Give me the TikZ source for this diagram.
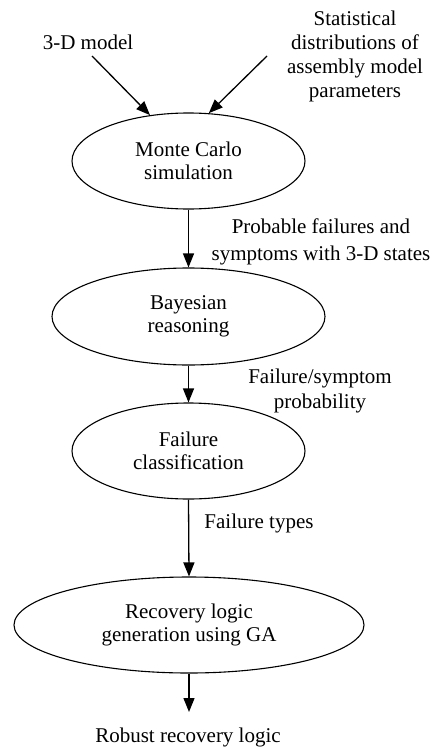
\documentclass[tikz,border=0pt]{standalone}
\usepackage{fontspec}
\setmainfont{Liberation Serif}
\usetikzlibrary{arrows.meta,shapes.geometric}
\tikzset{
  txt/.style={align=center,inner sep=0pt,font=\fontsize{21}{24}\selectfont},
  proc/.style={ellipse,draw,line width=1.1pt,inner sep=0pt,align=center,font=\fontsize{21}{23}\selectfont},
  arr/.style={line width=1.3pt,-{Triangle[length=14pt,width=11pt]}}
}
\begin{document}
\begin{tikzpicture}[x=1pt,y=-1pt]
\useasboundingbox (0,0) rectangle (437,749);
% inputs
\node[txt] (model) at (88,42) {3-D model};
\node[txt] (stats) at (355,56) {Statistical\\distributions of\\assembly model\\parameters};
\coordinate (s1) at (92,56);
\coordinate (s2) at (267,56);
% process steps
\node[proc,minimum width=233pt,minimum height=96pt] (mc) at (188.5,161) {Monte Carlo\\simulation};
\node[proc,minimum width=273pt,minimum height=97pt] (bay) at (188.5,316.5) {Bayesian\\reasoning};
\node[proc,minimum width=233pt,minimum height=96pt] (fc) at (188.5,451) {Failure\\classification};
\node[proc,minimum width=350pt,minimum height=96pt] (rec) at (189,625) {Recovery logic\\generation using GA};
\node[txt] (rob) at (188,737) {Robust recovery logic};
\coordinate (robtop) at (189,712);
% flow labels
\node[txt,font=\fontsize{21}{27}\selectfont] (l1) at (321,241.5) {Probable failures and\\symptoms with 3-D states};
\node[txt,font=\fontsize{21}{25}\selectfont] (l2) at (320,390.5) {Failure/symptom\\probability};
\node[txt] (l3) at (259,523) {Failure types};
% connectors
\draw[arr] (s1) -- (mc.130);
\draw[arr] (s2) -- (mc.67);
\draw[arr] (mc.south) -- (bay.north);
\draw[arr] (bay.south) -- (fc.north);
\draw[arr] (fc.south) -- (rec.north);
\draw[arr] (rec.south) -- (robtop);
\end{tikzpicture}
\end{document}
